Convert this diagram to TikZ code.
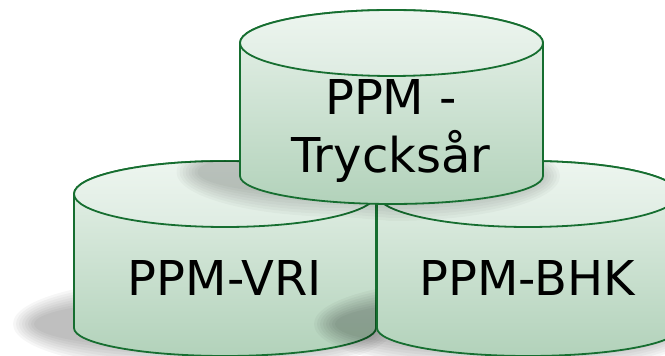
\documentclass[tikz,border=0pt]{standalone}
\usepackage{fontspec}
\setmainfont{DejaVu Sans}
\definecolor{cylline}{RGB}{22,110,48}
\definecolor{cyllight}{RGB}{237,245,239}
\definecolor{cylmid}{RGB}{222,236,226}
\definecolor{cyldark}{RGB}{178,210,186}

\begin{document}
\begin{tikzpicture}[x=1pt,y=1pt,
        cylbody/.style={draw=cylline, line width=1.8pt, top color=cyllight!70!cylmid, bottom color=cyldark},
        cylface/.style={draw=cylline, line width=1.8pt, top color=cyllight, bottom color=cylmid},
        cylshadow/.style={fill=black, opacity=0.035},
        cyltext/.style={font=\fontsize{48}{58}\selectfont, align=center, inner sep=0pt, anchor=base}]
    \useasboundingbox (0,0) rectangle (665,356);
    % ground shadow, left
    \foreach \e in {-4,-1,...,17}
        \path[cylshadow] (181,60+\e) arc[start angle=90, end angle=270, x radius=151+\e, y radius=28+\e]
            -- (225,-\e) arc[start angle=270, end angle=450, x radius=151+\e, y radius=28+\e] -- cycle;
    % left cylinder
    \path[cylbody] (74,162) -- (74,28) arc[start angle=180, end angle=360, x radius=151, y radius=28]
        -- (376,162) arc[start angle=0, end angle=180, x radius=151, y radius=33] -- cycle;
    \path[cylface] (225,162) ellipse[x radius=151, y radius=33];
    % shadow of right cylinder
    \foreach \e in {-4,-1,...,17}
        \path[cylshadow] (482,60+\e) arc[start angle=90, end angle=270, x radius=151+\e, y radius=28+\e]
            -- (528,-\e) arc[start angle=270, end angle=450, x radius=151+\e, y radius=28+\e] -- cycle;
    % right cylinder
    \path[cylbody] (377,162) -- (377,28) arc[start angle=180, end angle=360, x radius=151, y radius=28]
        -- (679,162) arc[start angle=0, end angle=180, x radius=151, y radius=33] -- cycle;
    \path[cylface] (528,162) ellipse[x radius=151, y radius=33];
    % shadow of top cylinder on the lower ones
    \begin{scope}
        \clip (74,162) -- (74,28) arc[start angle=180, end angle=360, x radius=151, y radius=28]
            -- (376,162) arc[start angle=0, end angle=180, x radius=151, y radius=33] -- cycle
            (377,162) -- (377,28) arc[start angle=180, end angle=360, x radius=151, y radius=28]
            -- (679,162) arc[start angle=0, end angle=180, x radius=151, y radius=33] -- cycle;
        \foreach \e in {-4,-1,...,17}
            \path[cylshadow, opacity=0.028] (345,212+\e) arc[start angle=90, end angle=270, x radius=151.5+\e, y radius=28+\e]
                -- (391.5,152-\e) arc[start angle=270, end angle=450, x radius=151.5+\e, y radius=28+\e] -- cycle;
    \end{scope}
    % top cylinder
    \path[cylbody] (240,313) -- (240,180) arc[start angle=180, end angle=360, x radius=151.5, y radius=28]
        -- (543,313) arc[start angle=0, end angle=180, x radius=151.5, y radius=33] -- cycle;
    \path[cylface] (391.5,313) ellipse[x radius=151.5, y radius=33];
    % labels
    \node[cyltext] (vri) at (225,60) {PPM-VRI};
    \node[cyltext] (bhk) at (527,60) {PPM-BHK};
    \node[cyltext] (tryck) at (391,183) {PPM -\\Trycksår};
\end{tikzpicture}
\end{document}
